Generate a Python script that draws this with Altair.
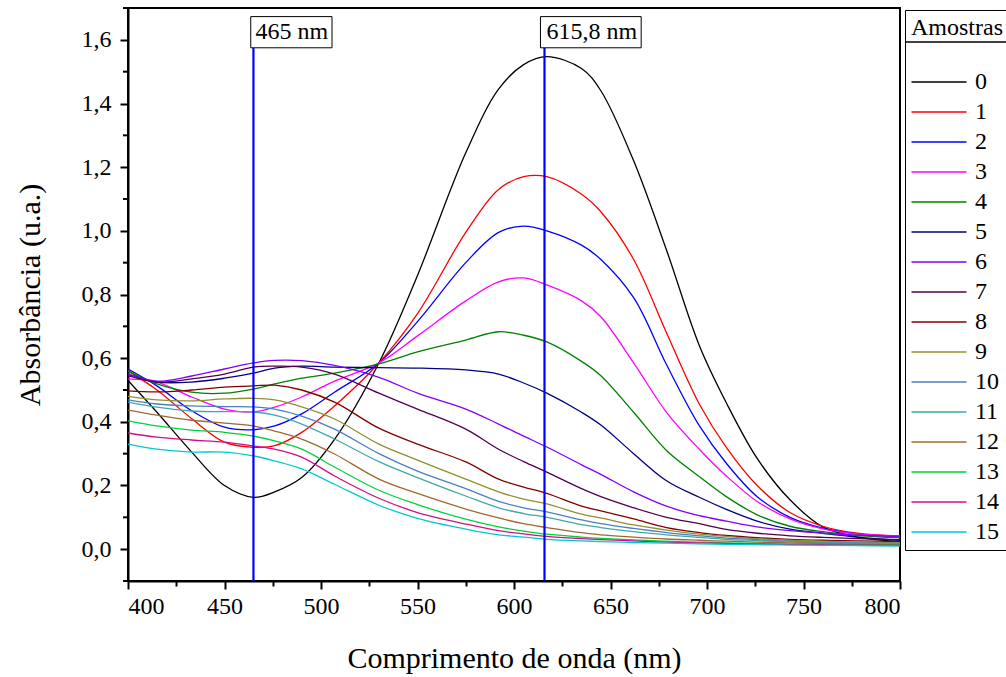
import altair as alt
import pandas as pd

# Wavelength grid (nm)
wavelength = [400, 415, 433, 450, 465, 476, 490, 507, 530, 550, 575, 592, 605,
              617, 635, 645, 662, 679, 696, 710, 726, 743, 760, 778, 800]

s0 = [0.53, 0.43, 0.305, 0.20, 0.163, 0.18, 0.225, 0.345, 0.585, 0.86, 1.245, 1.445, 1.522,
      1.547, 1.51, 1.44, 1.22, 0.94, 0.64, 0.46, 0.285, 0.155, 0.07, 0.038, 0.024]
s1 = [0.56, 0.50, 0.41, 0.336, 0.32, 0.325, 0.367, 0.45, 0.585, 0.74, 0.995, 1.13, 1.17,
      1.17, 1.115, 1.06, 0.91, 0.68, 0.456, 0.32, 0.2, 0.115, 0.072, 0.05, 0.04]
s2 = [0.566, 0.513, 0.435, 0.383, 0.375, 0.387, 0.425, 0.493, 0.585, 0.715, 0.90, 0.995, 1.015,
      1.0, 0.955, 0.91, 0.79, 0.58, 0.388, 0.27, 0.165, 0.1, 0.066, 0.048, 0.04]
s3 = [0.535, 0.525, 0.478, 0.44, 0.431, 0.446, 0.478, 0.528, 0.585, 0.67, 0.78, 0.84, 0.852,
      0.83, 0.78, 0.73, 0.585, 0.43, 0.314, 0.23, 0.15, 0.095, 0.064, 0.048, 0.042]
s4 = [0.56, 0.519, 0.493, 0.49, 0.503, 0.519, 0.537, 0.553, 0.582, 0.62, 0.657, 0.683, 0.672,
      0.651, 0.59, 0.545, 0.43, 0.31, 0.228, 0.165, 0.108, 0.072, 0.055, 0.043, 0.036]
s5 = [0.55, 0.525, 0.525, 0.537, 0.553, 0.569, 0.575, 0.572, 0.57, 0.569, 0.563, 0.55, 0.522,
      0.49, 0.43, 0.39, 0.30, 0.215, 0.163, 0.125, 0.088, 0.063, 0.05, 0.038, 0.028]
s6 = [0.55, 0.528, 0.544, 0.566, 0.585, 0.593, 0.592, 0.577, 0.54, 0.49, 0.44, 0.393, 0.355,
      0.321, 0.265, 0.235, 0.18, 0.135, 0.105, 0.088, 0.07, 0.058, 0.05, 0.044, 0.04]
s7 = [0.545, 0.525, 0.535, 0.55, 0.572, 0.575, 0.572, 0.55, 0.49, 0.44, 0.377, 0.314, 0.275,
      0.242, 0.19, 0.165, 0.13, 0.1, 0.08, 0.062, 0.05, 0.042, 0.037, 0.033, 0.03]
s8 = [0.497, 0.494, 0.50, 0.509, 0.513, 0.515, 0.50, 0.462, 0.38, 0.33, 0.274, 0.22, 0.195,
      0.175, 0.135, 0.12, 0.095, 0.068, 0.052, 0.043, 0.036, 0.031, 0.028, 0.026, 0.024]
s9 = [0.48, 0.469, 0.466, 0.472, 0.474, 0.469, 0.447, 0.409, 0.33, 0.28, 0.22, 0.18, 0.157,
      0.142, 0.11, 0.098, 0.076, 0.06, 0.047, 0.04, 0.033, 0.028, 0.025, 0.022, 0.02]
s10 = [0.469, 0.456, 0.45, 0.448, 0.447, 0.44, 0.418, 0.377, 0.30, 0.245, 0.19, 0.15, 0.13,
       0.117, 0.092, 0.08, 0.065, 0.052, 0.042, 0.035, 0.03, 0.025, 0.022, 0.02, 0.018]
s11 = [0.462, 0.446, 0.434, 0.432, 0.431, 0.421, 0.393, 0.346, 0.275, 0.225, 0.167, 0.13, 0.112,
       0.1, 0.077, 0.068, 0.055, 0.045, 0.037, 0.031, 0.027, 0.023, 0.02, 0.018, 0.016]
s12 = [0.437, 0.421, 0.405, 0.396, 0.387, 0.371, 0.346, 0.299, 0.22, 0.175, 0.126, 0.098, 0.08,
       0.068, 0.052, 0.045, 0.038, 0.032, 0.028, 0.025, 0.022, 0.02, 0.018, 0.016, 0.014]
s13 = [0.403, 0.387, 0.374, 0.367, 0.355, 0.34, 0.314, 0.258, 0.185, 0.14, 0.094, 0.07, 0.057,
       0.047, 0.038, 0.034, 0.029, 0.025, 0.022, 0.02, 0.018, 0.016, 0.015, 0.014, 0.013]
s14 = [0.365, 0.352, 0.343, 0.336, 0.324, 0.314, 0.289, 0.23, 0.16, 0.115, 0.079, 0.058, 0.048,
       0.04, 0.033, 0.03, 0.026, 0.022, 0.02, 0.018, 0.016, 0.015, 0.014, 0.013, 0.012]
s15 = [0.33, 0.314, 0.305, 0.305, 0.293, 0.277, 0.252, 0.204, 0.138, 0.097, 0.063, 0.045, 0.038,
       0.031, 0.026, 0.024, 0.021, 0.019, 0.017, 0.015, 0.014, 0.013, 0.012, 0.011, 0.01]

series = [s0, s1, s2, s3, s4, s5, s6, s7, s8, s9, s10, s11, s12, s13, s14, s15]
sample_names = [str(i) for i in range(16)]
sample_colors = ["#000000", "#FF0000", "#0000FF", "#FF00FF", "#008000", "#000080",
                 "#8000FF", "#500050", "#800000", "#909030", "#4A7FC0", "#40A8A8",
                 "#A06830", "#00D040", "#D0108A", "#00C8D0"]

# Annotation lines
marker_wl = [465, 615.8]
marker_text = ["465 nm", "615,8 nm"]
box_left = [463.6, 613.7]
box_right = [505.7, 665.9]
box_top = [1.673, 1.673]
box_bottom = [1.575, 1.575]
rule_bottom = [-0.1, -0.1]

x_ticks = [400, 425, 450, 475, 500, 525, 550, 575, 600, 625, 650, 675, 700, 725, 750, 775, 800]
y_major = [0.0, 0.2, 0.4, 0.6, 0.8, 1.0, 1.2, 1.4, 1.6]
y_minor = [-0.1, 0.1, 0.3, 0.5, 0.7, 0.9, 1.1, 1.3, 1.5, 1.7]

rows = []
for name, vals in zip(sample_names, series):
    for w, v in zip(wavelength, vals):
        rows.append({"wl": w, "abs": v, "Amostra": name})
df = pd.DataFrame(rows)

ann = pd.DataFrame({"wl": marker_wl, "text": marker_text, "x0": box_left, "x1": box_right,
                    "ytop": box_top, "ybot": box_bottom, "rb": rule_bottom})
minor_df = pd.DataFrame({"abs": y_minor})

FONT = "Liberation Serif"

x_scale = alt.Scale(domain=[400, 800], nice=False, zero=False)
y_scale = alt.Scale(domain=[-0.1, 1.7], nice=False, zero=False)

x_axis = alt.Axis(
    title="Comprimento de onda (nm)", values=x_ticks, format="d",
    labelExpr="datum.value % 50 === 0 ? datum.label : ''",
    tickSize={"condition": {"test": "datum.value % 50 === 0", "value": 8}, "value": 5},
    labelOverlap=False, grid=False, labelFontSize=24, titleFontSize=30,
    labelPadding=5, titlePadding=25,
)
y_axis = alt.Axis(
    title="Absorbância (u.a.)", values=y_major, format=".1f", tickSize=8,
    labelOverlap=False, grid=False, labelFontSize=24, titleFontSize=30,
    labelPadding=9, titlePadding=36,
)

lines = alt.Chart(df).mark_line(strokeWidth=1.3, interpolate="catmull-rom", clip=True).encode(
    x=alt.X("wl:Q", scale=x_scale, axis=x_axis),
    y=alt.Y("abs:Q", scale=y_scale, axis=y_axis),
    color=alt.Color("Amostra:N", sort=sample_names,
                    scale=alt.Scale(domain=sample_names, range=sample_colors),
                    legend=alt.Legend(
                        orient="none", legendX=777, legendY=2, title="Amostras",
                        titleFont=FONT, titleFontSize=24, titleFontWeight="normal",
                        titleColor="black", titlePadding=30,
                        labelFont=FONT, labelFontSize=24, labelColor="black",
                        symbolType="M-5,0H5", symbolSize=121, symbolStrokeWidth=1.5,
                        symbolOffset=16, labelOffset=24, rowPadding=6, padding=6,
                        strokeColor="black",
                    )),
    order=alt.Order("wl:Q"),
)

# minor ticks on the y axis, positioned by the y scale
minor_ticks = alt.Chart(minor_df).mark_rule(color="black", strokeWidth=2).encode(
    y=alt.Y("abs:Q", scale=y_scale, axis=y_axis),
    x=alt.value(-5), x2=alt.value(0),
)

vrules = alt.Chart(ann).mark_rule(color="#0000FF", strokeWidth=2.2).encode(
    x="wl:Q", y="ybot:Q", y2="rb:Q"
)

boxes = alt.Chart(ann).mark_rect(fill="white", stroke="black", strokeWidth=1).encode(
    x="x0:Q", x2="x1:Q", y="ytop:Q", y2="ybot:Q"
)

labels = alt.Chart(ann).mark_text(align="left", baseline="middle", dx=2, font=FONT,
                                  fontSize=24, color="black").encode(
    x="wl:Q", y=alt.Y("ytop:Q"), yOffset=alt.value(15), text="text:N"
)

separator = alt.Chart(ann).mark_rule(color="black", strokeWidth=1).encode(
    x=alt.value(777), x2=alt.value(900), y=alt.value(34)
)

chart = alt.layer(lines, minor_ticks, vrules, boxes, labels, separator).properties(
    width=772, height=573,
    autosize=alt.AutoSizeParams(type="none"),
    padding={"left": 128, "top": 8, "right": 106, "bottom": 96},
    background="white",
).configure_view(
    stroke="black", strokeWidth=2
).configure_axis(
    labelFont=FONT, titleFont=FONT, labelColor="black", titleColor="black",
    titleFontWeight="normal", domainColor="black", domainWidth=2,
    tickColor="black", tickWidth=2,
)

chart.save("out.html", embed_options={
    "renderer": "svg", "actions": False,
    "formatLocale": {"decimal": ",", "thousands": ".", "grouping": [3],
                     "currency": ["", ""]},
})
